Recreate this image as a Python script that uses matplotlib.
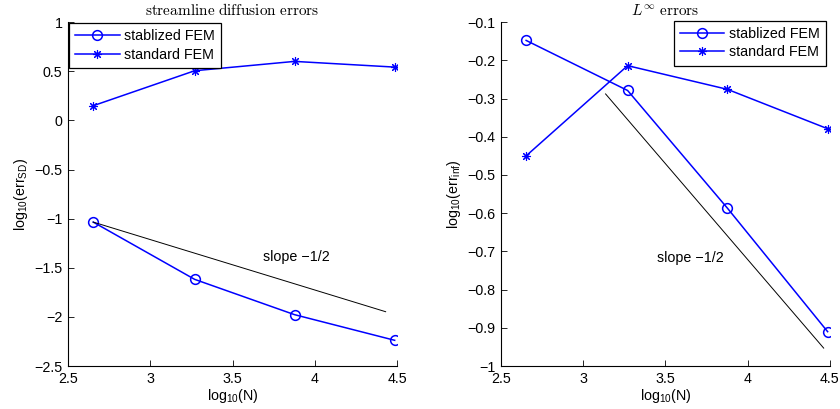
import matplotlib
matplotlib.use('Agg')
import matplotlib.pyplot as plt

plt.rcParams['font.family'] = ['Liberation Sans', 'DejaVu Sans']
plt.rcParams['mathtext.fontset'] = 'custom'
plt.rcParams['mathtext.rm'] = 'Liberation Sans'
plt.rcParams['mathtext.it'] = 'Liberation Sans:italic'
plt.rcParams['axes.unicode_minus'] = True

# data
log_n = [2.653, 3.270, 3.877, 4.486]
sd_stab = [-1.035, -1.618, -1.977, -2.238]
sd_std = [0.149, 0.505, 0.600, 0.542]
inf_stab = [-0.148, -0.279, -0.587, -0.910]
inf_std = [-0.450, -0.214, -0.276, -0.379]

# reference slope -1/2 lines
sd_slope_x = [2.653, 4.431]
sd_slope_y = [-1.035, -1.947]
inf_slope_x = [3.136, 4.462]
inf_slope_y = [-0.288, -0.953]

xticks = [2.5, 3, 3.5, 4, 4.5]
sd_yticks = [1, 0.5, 0, -0.5, -1, -1.5, -2, -2.5]
inf_yticks = [-0.1, -0.2, -0.3, -0.4, -0.5, -0.6, -0.7, -0.8, -0.9, -1]

blue = '#0000ff'
star = (8, 2, 0)
fs = 10.3

fig = plt.figure(figsize=(8.4, 4.09), dpi=100)
ax1 = fig.add_axes([0.081, 0.105, 0.3916, 0.841])
ax2 = fig.add_axes([0.5964, 0.105, 0.3916, 0.841])


def style_axes(ax, yticks, ylim, ylabel, title):
    ax.set_xlim(2.5, 4.5)
    ax.set_ylim(*ylim)
    ax.set_xticks(xticks)
    ax.set_xticklabels(['%g' % t for t in xticks])
    ax.set_yticks(yticks)
    ax.set_yticklabels([('%g' % t).replace('-', '\u2212') for t in yticks])
    ax.spines['top'].set_visible(False)
    ax.spines['right'].set_visible(False)
    ax.spines['left'].set_linewidth(0.8)
    ax.spines['bottom'].set_linewidth(0.8)
    ax.tick_params(direction='in', length=4, width=0.6, labelsize=fs, pad=4)
    ax.set_xlabel(r'log$_{10}$(N)', fontsize=fs, labelpad=1)
    ax.set_ylabel(ylabel, fontsize=fs, labelpad=3)
    ax.set_title(title, fontsize=11, math_fontfamily='cm', pad=5)


def add_legend(ax, loc, anchor):
    leg = ax.legend(loc=loc, bbox_to_anchor=anchor, fontsize=fs,
                    fancybox=False, framealpha=1, edgecolor='black',
                    borderaxespad=0.05, handlelength=3.1,
                    handletextpad=0.3, borderpad=0.45, labelspacing=0.3)
    leg.get_frame().set_linewidth(0.9)


ax1.plot(log_n, sd_stab, '-', color=blue, lw=1.1, marker='o', ms=7,
         mfc='none', mew=1.1, label='stablized FEM')
ax1.plot(log_n, sd_std, '-', color=blue, lw=1.1, marker=star, ms=6.5,
         mew=0.8, label='standard FEM')
ax1.plot(sd_slope_x, sd_slope_y, '-', color='black', lw=0.7)
ax1.text(3.687, -1.394, 'slope \u22121/2', fontsize=fs, va='center', ha='left')
style_axes(ax1, sd_yticks, (-2.5, 1), r'log$_{10}$(err$_{\mathrm{SD}}$)',
           r'$\mathrm{streamline\ diffusion\ errors}$')
add_legend(ax1, 'upper left', (0.0, 1.0))

ax2.plot(log_n, inf_stab, '-', color=blue, lw=1.1, marker='o', ms=7,
         mfc='none', mew=1.1, label='stablized FEM')
ax2.plot(log_n, inf_std, '-', color=blue, lw=1.1, marker=star, ms=6.5,
         mew=0.8, label='standard FEM')
ax2.plot(inf_slope_x, inf_slope_y, '-', color='black', lw=0.7)
ax2.text(3.447, -0.718, 'slope \u22121/2', fontsize=fs, va='center', ha='left')
style_axes(ax2, inf_yticks, (-1, -0.1), r'log$_{10}$(err$_{\mathrm{inf}}$)',
           r'$L^{\infty}\ \mathrm{errors}$')
add_legend(ax2, 'upper right', (0.99, 1.006))

fig.savefig('out.png', dpi=100)
